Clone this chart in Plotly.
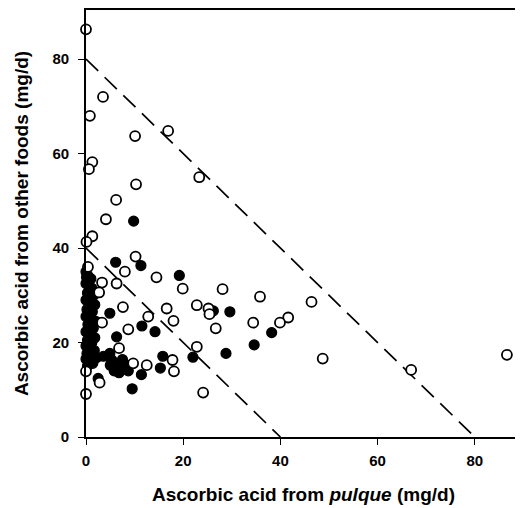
import plotly.graph_objects as go

# Open circles (x = ascorbic acid from pulque, y = from other foods), mg/d
open_x = [0, 3.5, 0.8, 10.1, 16.9, 1.3, 0.6, 23.3, 10.3, 6.2, 4.1, 1.3, 0.1, 0.4,
          10.2, 8.0, 6.3, 14.5, 19.9, 28.1, 35.8, 3.3, 2.7, 7.6, 16.6, 3.3, 12.8,
          18.0, 22.8, 25.2, 25.4, 26.7, 34.4, 22.8, 24.1, 8.7, 6.8, 9.7, 12.5,
          17.8, 18.1, 2.8, 0, 0, 46.4, 41.6, 39.9, 48.7, 66.9, 86.6]
open_y = [86.3, 72.0, 68.0, 63.7, 64.8, 58.2, 56.7, 55.0, 53.5, 50.2, 46.1, 42.5, 41.3, 36.0,
          38.2, 35.0, 32.5, 33.8, 31.4, 31.3, 29.7, 32.7, 30.6, 27.5, 27.2, 24.2, 25.5,
          24.6, 27.9, 27.2, 26.0, 23.0, 24.2, 19.1, 9.4, 22.8, 18.8, 15.6, 15.2,
          16.3, 13.9, 11.5, 13.9, 9.1, 28.6, 25.3, 24.2, 16.6, 14.2, 17.4]

# Filled circles
filled_x = [9.8, 6.1, 11.3, 19.2, 4.9, 11.5, 14.2, 26.2, 29.6, 34.6, 38.2, 28.8, 22.0,
            6.3, 4.9, 3.6, 15.8, 15.3, 11.4, 9.5, 2.5,
            5.3, 6.2, 7.2, 8.2, 5.8, 7.5, 8.7, 6.8, 5.0,
            0, 0.5, 1.0, 0, 1.2, 0.3, 1.6, 0, 0.8, 1.8, 0.2, 1.3, 0, 0.9, 2.0, 0.4,
            1.5, 0, 1.0, 1.8, 0.3, 1.2, 0, 0.7, 1.7, 0.2, 1.1, 2.2, 0, 0.6, 1.4, 0.3, 0.1]
filled_y = [45.7, 37.0, 36.3, 34.2, 26.2, 23.5, 22.3, 26.7, 26.5, 19.5, 22.1, 17.7, 16.9,
            21.2, 17.7, 17.1, 17.1, 14.6, 13.2, 10.2, 12.4,
            16.3, 15.0, 14.2, 15.3, 14.0, 16.4, 14.0, 13.6, 15.2,
            35.0, 34.0, 33.5, 32.5, 31.5, 30.5, 30.0, 29.0, 28.5, 28.0, 27.0, 26.5, 25.5, 25.0, 24.5, 23.8,
            23.0, 22.3, 21.8, 21.0, 20.5, 20.0, 19.3, 18.7, 18.3, 17.7, 17.2, 16.8, 16.5, 16.0, 15.6, 15.0, 33.8]

# Reference lines: pulque + other foods = total
line_totals = [40, 80]

x_ticks = [0, 20, 40, 60, 80]
y_ticks = [0, 20, 40, 60, 80]
x_range = [0, 89.5]
y_range = [0, 90.4]

fig = go.Figure()

for t in line_totals:
    fig.add_trace(go.Scatter(
        x=[0, t], y=[t, 0], mode="lines",
        line=dict(color="black", width=1.7, dash="17px,9px"),
        hoverinfo="skip", showlegend=False, cliponaxis=False))

fig.add_trace(go.Scatter(
    x=filled_x, y=filled_y, mode="markers",
    marker=dict(size=10, color="black", line=dict(color="black", width=1.2)),
    showlegend=False, cliponaxis=False))

fig.add_trace(go.Scatter(
    x=open_x, y=open_y, mode="markers",
    marker=dict(size=10, color="white", line=dict(color="black", width=1.8)),
    showlegend=False, cliponaxis=False))

font_family = "Liberation Sans, Arial, sans-serif"

fig.update_layout(
    width=515, height=500,
    margin=dict(l=78, r=2, t=2, b=71),
    paper_bgcolor="white", plot_bgcolor="white",
    font=dict(family=font_family, color="black"),
    xaxis=dict(
        range=x_range, tickvals=x_ticks, ticktext=[f"<b>{v}</b>" for v in x_ticks],
        showgrid=False, zeroline=False, showline=True, linecolor="black", linewidth=1.6,
        mirror=True, ticks="outside", ticklen=6, tickwidth=1.3, tickcolor="black",
        tickfont=dict(size=15, family=font_family), ticklabelstandoff=3,
        automargin=False,
        title=dict(text="<b>Ascorbic acid from <i>pulque</i> (mg/d)</b>",
                   font=dict(size=19, family=font_family), standoff=20),
    ),
    yaxis=dict(
        range=y_range, tickvals=y_ticks, ticktext=[f"<b>{v}</b>" for v in y_ticks],
        showgrid=False, zeroline=False, showline=True, linecolor="black", linewidth=1.6,
        mirror=False, ticks="outside", ticklen=6, tickwidth=1.3, tickcolor="black",
        tickfont=dict(size=15, family=font_family), ticklabelstandoff=6,
        automargin=False,
        title=dict(text="<b>Ascorbic acid from other foods (mg/d)</b>",
                   font=dict(size=19, family=font_family), standoff=19),
    ),
)

fig.write_html("out.html")
